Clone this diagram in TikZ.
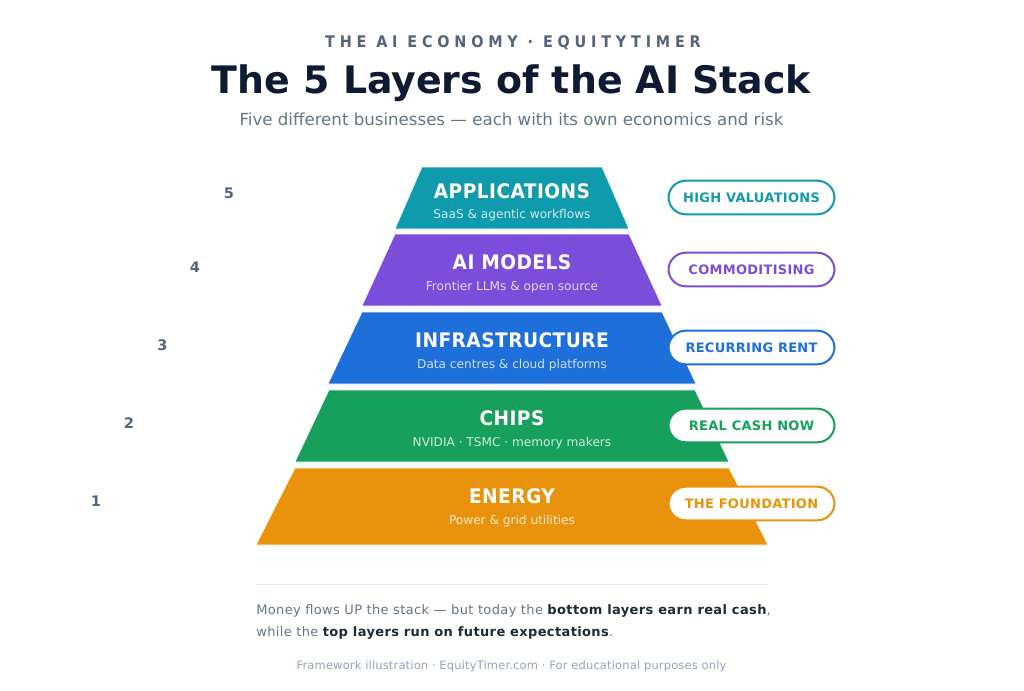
\documentclass[tikz,border=0pt]{standalone}
\usepackage{fontspec}
\setmainfont{DejaVu Sans}
\newfontfamily\kickerfont[FakeStretch=0.9,LetterSpace=30,BoldFont={DejaVu Sans Bold}]{DejaVu Sans}
\newfontfamily\layerfont[FakeStretch=0.93,LetterSpace=2.2,BoldFont={DejaVu Sans Bold}]{DejaVu Sans}
\newfontfamily\pillfont[LetterSpace=2.2,BoldFont={DejaVu Sans Bold}]{DejaVu Sans}
\newfontfamily\noteFont[LetterSpace=2.8,BoldFont={DejaVu Sans Bold}]{DejaVu Sans}
\newfontfamily\footFont[LetterSpace=1.5]{DejaVu Sans}
\definecolor{cApp}{HTML}{0F9BAC}
\definecolor{cMod}{HTML}{7C4DDB}
\definecolor{cInf}{HTML}{1F6FDB}
\definecolor{cChi}{HTML}{16A05C}
\definecolor{cEne}{HTML}{E9930C}
\definecolor{ink}{HTML}{0F1B33}
\definecolor{slate}{HTML}{55637F}
\definecolor{body}{HTML}{64748B}
\definecolor{dark}{HTML}{1E293B}
\definecolor{faint}{HTML}{94A3B8}
\definecolor{rulec}{HTML}{E2E8F0}
\tikzset{
  x=0.75pt,y=-0.75pt,
  txt/.style={inner sep=0pt,anchor=center},
  head/.style={txt,text=white,font=\layerfont\fontsize{15pt}{18pt}\selectfont\bfseries},
  subh/.style={txt,text=white,text opacity=0.78,font=\fontsize{9.1pt}{11pt}\selectfont},
  pill/.style={draw=#1,text=#1,fill=white,line width=1.5pt,rounded corners=12.9pt,minimum width=124.5pt,minimum height=25.2pt,inner sep=0pt,font=\pillfont\fontsize{9.75pt}{12pt}\selectfont\bfseries},
  num/.style={txt,text=slate,font=\fontsize{10.9pt}{13pt}\selectfont\bfseries},
  layer/.style={fill=#1,draw=white,line width=0.4pt},
}
\begin{document}
\begin{tikzpicture}
\useasboundingbox (0,0) rectangle (1024,690);
\fill[white] (0,0) rectangle (1024,690);
\node[txt,text=slate,font=\kickerfont\fontsize{12pt}{14pt}\selectfont\bfseries] (kicker) at (513,43) {THE AI ECONOMY · EQUITYTIMER};
\node[txt,text=ink,font=\fontsize{28.4pt}{34pt}\selectfont\bfseries] (title) at (511.5,83.5) {The 5 Layers of the AI Stack};
\node[txt,text=body,font=\fontsize{12.47pt}{15pt}\selectfont] (subtitle) at (511.5,119) {Five different businesses — each with its own economics and risk};

\path[layer=cApp] (422,167) -- (602,167) -- (629,229) -- (395,229) -- cycle;
\path[layer=cMod] (395,234) -- (629,234) -- (662,306) -- (362,306) -- cycle;
\path[layer=cInf] (362,312) -- (662,312) -- (696,384) -- (328,384) -- cycle;
\path[layer=cChi] (329,390) -- (695,390) -- (729,462) -- (295,462) -- cycle;
\path[layer=cEne] (295,468) -- (729,468) -- (768,545) -- (256,545) -- cycle;

\node[head] (happ) at (512,191) {APPLICATIONS};
\node[subh] (sapp) at (512,215) {SaaS \& agentic workflows};
\node[head] (hmod) at (512,262) {AI MODELS};
\node[subh] (smod) at (512,287) {Frontier LLMs \& open source};
\node[head] (hinf) at (512,340) {INFRASTRUCTURE};
\node[subh] (sinf) at (512,365) {Data centres \& cloud platforms};
\node[head] (hchi) at (512,418) {CHIPS};
\node[subh] (schi) at (512,443) {NVIDIA · TSMC · memory makers};
\node[head] (hene) at (512,496) {ENERGY};
\node[subh] (sene) at (512,521) {Power \& grid utilities};

\node[pill=cApp] (papp) at (751.5,197.5) {HIGH VALUATIONS};
\node[pill=cMod] (pmod) at (751.5,269.5) {COMMODITISING};
\node[pill=cInf] (pinf) at (751.5,347.5) {RECURRING RENT};
\node[pill=cChi] (pchi) at (751.5,425.5) {REAL CASH NOW};
\node[pill=cEne] (pene) at (751.5,503.5) {THE FOUNDATION};

\node[num] (n5) at (229,193) {5};
\node[num] (n4) at (195,267.5) {4};
\node[num] (n3) at (162.5,345.5) {3};
\node[num] (n2) at (129,423.5) {2};
\node[num] (n1) at (96,501.5) {1};

\coordinate (ruleL) at (256,584.5);
\coordinate (ruleR) at (768,584.5);
\draw[rulec,line width=1pt] (ruleL) -- (ruleR);
\node[txt,anchor=base west,text=body,font=\noteFont\fontsize{9.75pt}{12pt}\selectfont] (l1) at (256,614.5) {Money flows UP the stack — but today the {\color{dark}\bfseries bottom layers earn real cash},};
\node[txt,anchor=base west,text=body,font=\noteFont\fontsize{9.75pt}{12pt}\selectfont] (l2) at (256,636.5) {while the {\color{dark}\bfseries top layers run on future expectations}.};
\node[txt,text=faint,font=\footFont\fontsize{8.6pt}{11pt}\selectfont] (foot) at (511.5,666.5) {Framework illustration · EquityTimer.com · For educational purposes only};
\end{tikzpicture}
\end{document}
